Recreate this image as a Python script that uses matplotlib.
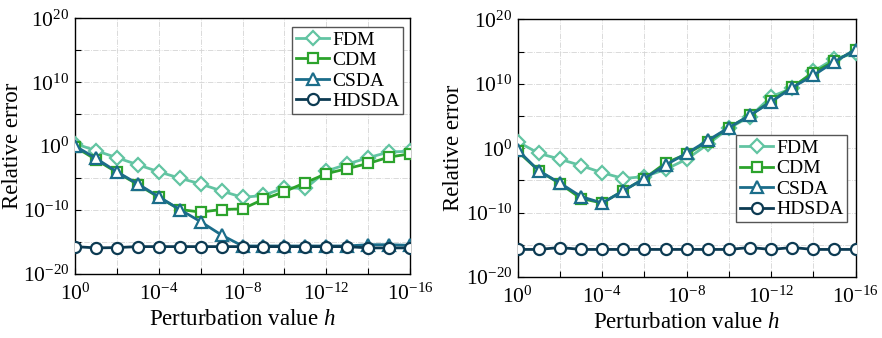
#____________________________________________________________________________________________________
# imports
import numpy as np
import matplotlib
matplotlib.use("Agg")
import matplotlib.pyplot as plt
from matplotlib.ticker import FixedLocator, FuncFormatter

#____________________________________________________________________________________________________
# data (log10 of relative error)
h_exp = list(range(0, -17, -1))   # h = 10^0 ... 10^-16
method_names = ["FDM", "CDM", "CSDA", "HDSDA"]

# left panel
left_fdm = [0.4, -0.7, -1.8, -2.9, -4.0, -5.0, -5.9, -7.0, -8.0, -7.7, -6.5, -6.6, -3.9, -2.8, -1.8, -0.9, -0.8]
left_cdm = [-0.1, -2.1, -4.1, -6.0, -8.0, -9.9, -10.3, -9.9, -9.8, -8.3, -7.1, -5.7, -4.3, -3.5, -2.7, -1.7, -1.2]
left_csda = [0.05, -1.9, -4.0, -5.9, -7.9, -9.9, -11.8, -13.9, -15.6, -15.6, -15.6, -15.6, -15.6, -15.6, -15.4, -15.4, -15.5]
left_hdsda = [-15.7, -15.9, -15.85, -15.7, -15.7, -15.7, -15.7, -15.7, -15.7, -15.7, -15.7, -15.7, -15.7, -15.7, -15.9, -15.9, -15.9]

# right panel
right_fdm = [1.0, -0.8, -1.7, -2.7, -3.8, -4.7, -4.4, -3.3, -1.7, 0.6, 3.1, 4.9, 8.0, 9.3, 11.9, 13.9, 14.7]
right_cdm = [-0.5, -3.5, -5.5, -7.8, -8.5, -6.6, -4.7, -2.3, -0.9, 1.0, 3.2, 5.1, 7.3, 9.5, 11.7, 13.5, 15.2]
right_csda = [-0.3, -3.5, -5.4, -7.5, -8.5, -6.6, -4.7, -2.6, -0.8, 1.2, 3.2, 5.1, 7.2, 9.4, 11.3, 13.4, 15.3]
right_hdsda = [-15.7, -15.7, -15.4, -15.7, -15.7, -15.7, -15.7, -15.7, -15.7, -15.7, -15.7, -15.4, -15.7, -15.4, -15.7, -15.7, -15.7]

#____________________________________________________________________________________________________
# set ups
plt.rcParams['font.family'] = ['Liberation Serif', 'DejaVu Serif']
plt.rcParams['mathtext.fontset'] = 'custom'
plt.rcParams['mathtext.rm'] = 'Liberation Serif'
plt.rcParams['mathtext.it'] = 'Liberation Serif:italic'

colors = ["#62c4a2", "#2ca32c", "#1b6d8a", "#0c3a52"]
markers = ["D", "s", "^", "o"]
msizes = [7, 7, 8.5, 8]


def pow_label(v, pos):
    e = int(round(np.log10(v)))
    if e % 10 != 0:
        return ""
    return r"$10^{%d}$" % e


def pow_label_x(v, pos):
    e = int(round(np.log10(v)))
    if e % 4 != 0:
        return ""
    return r"$10^{%d}$" % e


def draw_panel(ax, series, legend_kw, ylab_x):
    h = 10.0 ** np.array(h_exp, dtype=float)
    for i, s in enumerate(series):
        ax.plot(h, 10.0 ** np.array(s), color=colors[i], marker=markers[i],
                markersize=msizes[i], markerfacecolor="white", markeredgewidth=1.6,
                linewidth=2, label=method_names[i], zorder=3 + i)
    ax.set_xscale("log")
    ax.set_yscale("log")
    ax.set_xlim(1e0, 1e-16)
    ax.set_ylim(1e-20, 1e20)
    ax.xaxis.set_major_locator(FixedLocator([10.0 ** e for e in range(0, -17, -2)]))
    ax.yaxis.set_major_locator(FixedLocator([10.0 ** e for e in range(-20, 21, 5)]))
    ax.xaxis.set_minor_locator(FixedLocator([]))
    ax.yaxis.set_minor_locator(FixedLocator([]))
    ax.xaxis.set_major_formatter(FuncFormatter(pow_label_x))
    ax.yaxis.set_major_formatter(FuncFormatter(pow_label))
    ax.tick_params(direction="in", length=4, labelsize=15.5, top=False, right=False)
    ax.tick_params(axis="x", pad=7)
    ax.tick_params(axis="y", pad=4)
    ax.grid(True, which="major", linestyle="-.", linewidth=0.6, color="#d4d4d4")
    ax.set_axisbelow(True)
    for sp in ax.spines.values():
        sp.set_linewidth(1.0)
    ax.set_xlabel(r"Perturbation value $h$", fontsize=16.5, labelpad=3)
    ax.set_ylabel("Relative error", fontsize=16.5)
    ax.yaxis.set_label_coords(ylab_x, 0.5)
    leg = ax.legend(fontsize=14, fancybox=False, framealpha=1,
                    edgecolor="#555555", borderpad=0.2, labelspacing=0.15,
                    handlelength=1.7, handletextpad=0.15, **legend_kw)
    leg.get_frame().set_linewidth(1.0)


def main():
    fig = plt.figure(figsize=(8.82, 3.38), dpi=100)
    ax1 = fig.add_axes([0.085, 0.189, 0.380, 0.757])
    ax2 = fig.add_axes([0.587, 0.180, 0.383, 0.763])
    draw_panel(ax1, [left_fdm, left_cdm, left_csda, left_hdsda],
               dict(loc="upper right", bbox_to_anchor=(0.98, 0.965), borderaxespad=0), -0.155)
    draw_panel(ax2, [right_fdm, right_cdm, right_csda, right_hdsda],
               dict(loc="upper right", bbox_to_anchor=(0.976, 0.55), borderaxespad=0), -0.16)
    fig.savefig("out.png", dpi=100)


#____________________________________________________________________________________________________
# main
if __name__ == "__main__":
    main()
